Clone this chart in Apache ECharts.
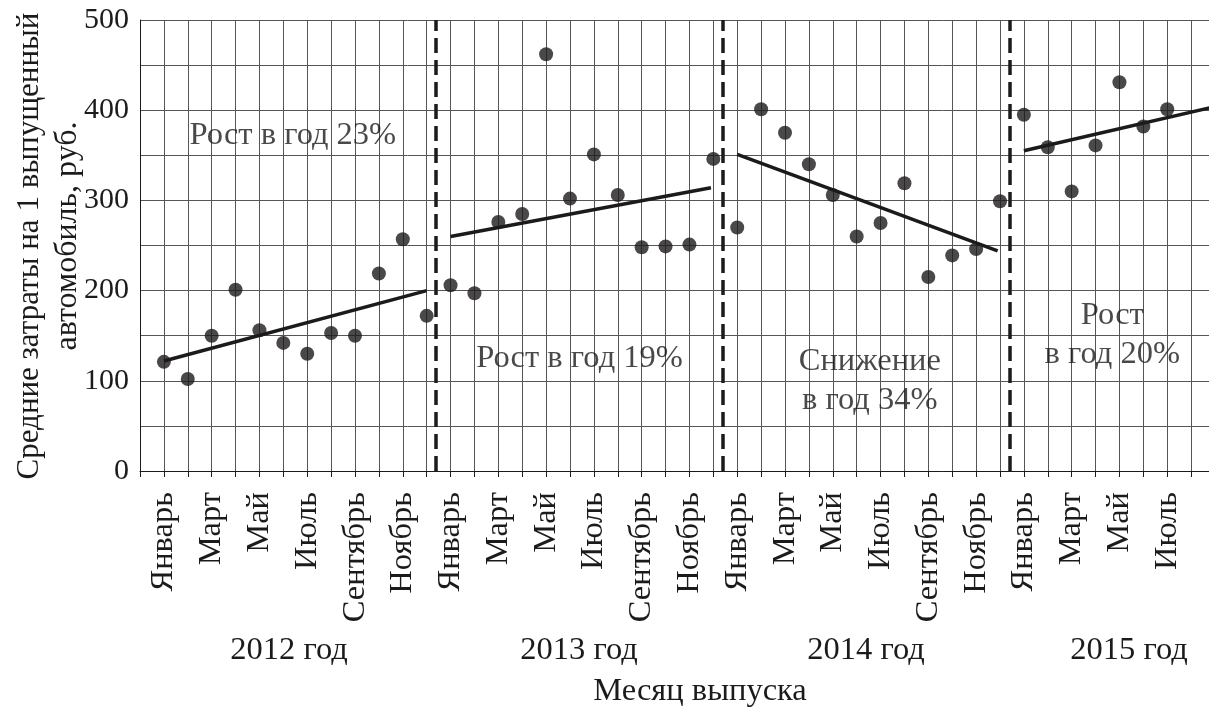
<!DOCTYPE html>
<html>
<head>
<meta charset="utf-8">
<script src="https://cdn.jsdelivr.net/npm/echarts@6/dist/echarts.min.js"></script>
<style>html,body{margin:0;padding:0;background:#fff}#c{width:1209px;height:708px}</style>
</head>
<body>
<div id="c"></div>
<script>
// ---- data ----
const monthNames = ['Январь','Февраль','Март','Апрель','Май','Июнь','Июль','Август','Сентябрь','Октябрь','Ноябрь','Декабрь'];
const years = ['2012 год','2013 год','2014 год','2015 год'];
// x positions: index 0 = axis origin, 1 = Январь 2012 ... 44 = Август 2015
const categories = [''];
for (let y = 0; y < 4; y++) for (let m = 0; m < 12; m++) categories.push(monthNames[m]);
categories.length = 45;
const shownMonths = ['Январь','Март','Май','Июль','Сентябрь','Ноябрь'];

const values2012 = [121, 102, 150, 201, 156, 142, 130, 153, 150, 219, 257, 172];
const values2013 = [206, 197, 276, 285, 462, 302, 351, 306, 248, 249, 251, 346];
const values2014 = [270, 401, 375, 340, 306, 260, 275, 319, 215, 239, 246, 299];
const values2015 = [395, 359, 310, 361, 431, 382, 401];

const trend2012 = [[1, 122], [12, 200]];
const trend2013 = [[13, 260], [23.9, 314]];
const trend2014 = [[25, 351], [35.9, 244]];
const trend2015 = [[37, 355], [45, 404]];

const yearSeparators = [12.4, 24.4, 36.4];

const notes = [
  { x: 6.4, y: 372, text: 'Рост в год 23%' },
  { x: 18.4, y: 125, text: 'Рост в год 19%' },
  { x: 30.55, y: 100, text: 'Снижение\nв год 34%' },
  { x: 40.7, y: 151, text: 'Рост\nв год 20%' }
];

const yTitle1 = 'Средние затраты на 1 выпущенный';
const yTitle2 = 'автомобиль, руб.';
const xTitle = 'Месяц выпуска';

// ---- build ----
const allValues = [values2012, values2013, values2014, values2015];
const points = [];
allValues.forEach((arr, yi) => arr.forEach((v, mi) => points.push([1 + yi * 12 + mi, v])));

const INK = '#1d1a1b';
const FONT = '"Liberation Serif", "Times New Roman", serif';

const chart = echarts.init(document.getElementById('c'), null, { renderer: 'canvas' });

const trendSeries = [trend2012, trend2013, trend2014, trend2015].map(t => ({
  type: 'line', data: t, symbol: 'none', silent: true,
  lineStyle: { color: INK, width: 3.5 }, z: 3
}));

const yearX = [289, 579, 866, 1129];

chart.setOption({
  animation: false,
  backgroundColor: '#fff',
  textStyle: { fontFamily: FONT, color: INK },
  grid: { left: 140, top: 20, right: -6, bottom: 237, containLabel: false, outerBoundsMode: 'none' },
  xAxis: {
    type: 'value', min: 0, max: 45, interval: 1,
    axisLine: { show: true, onZero: false, lineStyle: { color: INK, width: 1 } },
    axisTick: { show: true, length: 6, lineStyle: { color: INK, width: 1 } },
    splitLine: { show: true, lineStyle: { color: '#555', width: 1 } },
    axisLabel: {
      rotate: 90, margin: 21, fontSize: 32.5, fontFamily: FONT, color: INK,
      formatter: v => {
        const n = categories[v];
        return (n && shownMonths.indexOf(n) >= 0) ? n : '';
      }
    }
  },
  yAxis: {
    type: 'value', min: 0, max: 500, interval: 50,
    axisLine: { show: true, lineStyle: { color: INK, width: 1 } },
    axisTick: { show: false },
    splitLine: { show: true, lineStyle: { color: '#555', width: 1 } },
    axisLabel: {
      margin: 11, fontSize: 30, fontFamily: FONT, color: INK,
      formatter: v => (v % 100 === 0 ? String(v) : '')
    }
  },
  series: [
    {
      type: 'scatter', data: points, symbol: 'circle', symbolSize: 14,
      itemStyle: { color: INK }, z: 4,
      markLine: {
        silent: true, symbol: 'none', label: { show: false },
        lineStyle: { color: INK, width: 3.5, type: [15, 7] },
        data: yearSeparators.map(x => ({ xAxis: x }))
      }
    },
    ...trendSeries,
    {
      type: 'scatter', silent: true, symbolSize: 1,
      itemStyle: { color: 'rgba(0,0,0,0)' },
      data: notes.map(n => ({ value: [n.x, n.y], name: n.text })),
      label: {
        show: true, position: 'inside', formatter: p => p.name,
        fontSize: 32.5, lineHeight: 39, fontFamily: FONT, color: INK
      }, z: 5
    }
  ],
  graphic: [
    { type: 'text', x: 30, y: 246, rotation: Math.PI / 2,
      style: { text: yTitle1, font: '31px ' + FONT, fill: INK, align: 'center', verticalAlign: 'middle' } },
    { type: 'text', x: 68, y: 236, rotation: Math.PI / 2,
      style: { text: yTitle2, font: '32px ' + FONT, fill: INK, align: 'center', verticalAlign: 'middle' } },
    ...years.map((t, i) => ({ type: 'text', x: yearX[i], y: 650,
      style: { text: t, font: '32.5px ' + FONT, fill: INK, align: 'center', verticalAlign: 'middle' } })),
    { type: 'text', x: 700, y: 691,
      style: { text: xTitle, font: '32.5px ' + FONT, fill: INK, align: 'center', verticalAlign: 'middle' } }
  ]
});
</script>
</body>
</html>
